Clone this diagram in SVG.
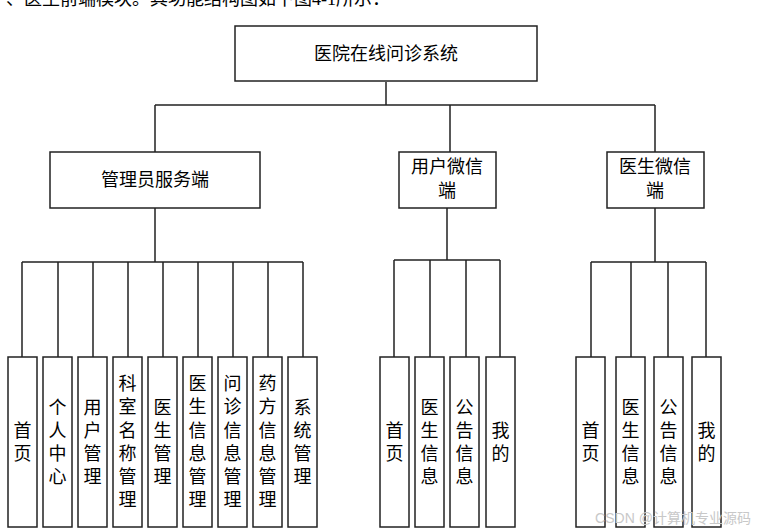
<svg xmlns="http://www.w3.org/2000/svg" width="759" height="531" viewBox="0 0 759 531">
<style>
.b{fill:#fff;stroke:#222;stroke-width:1.5}
.l{fill:none;stroke:#222;stroke-width:1.5}
text{font-family:"Liberation Sans","Noto Sans CJK SC",sans-serif;fill:#000;text-anchor:middle}
.t{font-size:18px}
.v{font-size:18px}
</style>
<rect width="759" height="531" fill="#fff"/>
<text x="6" y="5" style="font-size:18px;text-anchor:start;font-family:'Liberation Serif','Noto Sans CJK SC',serif">、医生前端模块。其功能结构图如下图4-1所示：</text>
<g id="connectors">
<path class="l" d="M386 82V105M155 105H655M155 105V152M450 105V152M655 105V152"/>
<path class="l" d="M155 208V262M22 262H303M22 262V357M58 262V357M93 262V357M128 262V357M163 262V357M198 262V357M233 262V357M268 262V357M303 262V357"/>
<path class="l" d="M447 208V260M394 260H500M394 260V357M430 260V357M466 260V357M500 260V357"/>
<path class="l" d="M655 208V262M591 262H706M591 262V357M631 262V357M668 262V357M706 262V357"/>
</g>
<g id="root"><rect class="b" x="235" y="26" width="302" height="55"/><text class="t" x="386" y="60">医院在线问诊系统</text></g>
<g id="admin"><rect class="b" x="50" y="152" width="210" height="56"/><text class="t" x="155" y="186">管理员服务端</text></g>
<g id="user"><rect class="b" x="399" y="152" width="97" height="56"/><text class="t" x="447" y="173">用户微信</text><text class="t" x="447" y="197">端</text></g>
<g id="doctor"><rect class="b" x="607" y="152" width="97" height="56"/><text class="t" x="655" y="173">医生微信</text><text class="t" x="655" y="197">端</text></g>
<g id="a1"><rect class="b" x="8" y="357" width="29" height="170"/><text class="v" x="22.5" y="437">首</text><text class="v" x="22.5" y="460">页</text></g>
<g id="a2"><rect class="b" x="43" y="357" width="29" height="170"/><text class="v" x="57.5" y="414">个</text><text class="v" x="57.5" y="437">人</text><text class="v" x="57.5" y="460">中</text><text class="v" x="57.5" y="483">心</text></g>
<g id="a3"><rect class="b" x="78" y="357" width="29" height="170"/><text class="v" x="92.5" y="414">用</text><text class="v" x="92.5" y="437">户</text><text class="v" x="92.5" y="460">管</text><text class="v" x="92.5" y="483">理</text></g>
<g id="a4"><rect class="b" x="113" y="357" width="29" height="170"/><text class="v" x="127.5" y="390">科</text><text class="v" x="127.5" y="413">室</text><text class="v" x="127.5" y="437">名</text><text class="v" x="127.5" y="460">称</text><text class="v" x="127.5" y="483">管</text><text class="v" x="127.5" y="506">理</text></g>
<g id="a5"><rect class="b" x="148" y="357" width="29" height="170"/><text class="v" x="162.5" y="414">医</text><text class="v" x="162.5" y="437">生</text><text class="v" x="162.5" y="460">管</text><text class="v" x="162.5" y="483">理</text></g>
<g id="a6"><rect class="b" x="183" y="357" width="29" height="170"/><text class="v" x="197.5" y="390">医</text><text class="v" x="197.5" y="413">生</text><text class="v" x="197.5" y="437">信</text><text class="v" x="197.5" y="460">息</text><text class="v" x="197.5" y="483">管</text><text class="v" x="197.5" y="506">理</text></g>
<g id="a7"><rect class="b" x="218" y="357" width="29" height="170"/><text class="v" x="232.5" y="390">问</text><text class="v" x="232.5" y="413">诊</text><text class="v" x="232.5" y="437">信</text><text class="v" x="232.5" y="460">息</text><text class="v" x="232.5" y="483">管</text><text class="v" x="232.5" y="506">理</text></g>
<g id="a8"><rect class="b" x="253" y="357" width="29" height="170"/><text class="v" x="267.5" y="390">药</text><text class="v" x="267.5" y="413">方</text><text class="v" x="267.5" y="437">信</text><text class="v" x="267.5" y="460">息</text><text class="v" x="267.5" y="483">管</text><text class="v" x="267.5" y="506">理</text></g>
<g id="a9"><rect class="b" x="288" y="357" width="29" height="170"/><text class="v" x="302.5" y="414">系</text><text class="v" x="302.5" y="437">统</text><text class="v" x="302.5" y="460">管</text><text class="v" x="302.5" y="483">理</text></g>
<g id="u1"><rect class="b" x="380" y="357" width="29" height="170"/><text class="v" x="394.5" y="437">首</text><text class="v" x="394.5" y="460">页</text></g>
<g id="u2"><rect class="b" x="415" y="357" width="29" height="170"/><text class="v" x="429.5" y="414">医</text><text class="v" x="429.5" y="437">生</text><text class="v" x="429.5" y="460">信</text><text class="v" x="429.5" y="483">息</text></g>
<g id="u3"><rect class="b" x="450" y="357" width="29" height="170"/><text class="v" x="464.5" y="414">公</text><text class="v" x="464.5" y="437">告</text><text class="v" x="464.5" y="460">信</text><text class="v" x="464.5" y="483">息</text></g>
<g id="u4"><rect class="b" x="486" y="357" width="29" height="170"/><text class="v" x="500.5" y="437">我</text><text class="v" x="500.5" y="460">的</text></g>
<g id="d1"><rect class="b" x="576" y="357" width="29" height="170"/><text class="v" x="590.5" y="437">首</text><text class="v" x="590.5" y="460">页</text></g>
<g id="d2"><rect class="b" x="616" y="357" width="29" height="170"/><text class="v" x="630.5" y="414">医</text><text class="v" x="630.5" y="437">生</text><text class="v" x="630.5" y="460">信</text><text class="v" x="630.5" y="483">息</text></g>
<g id="d3"><rect class="b" x="654" y="357" width="29" height="170"/><text class="v" x="668.5" y="414">公</text><text class="v" x="668.5" y="437">告</text><text class="v" x="668.5" y="460">信</text><text class="v" x="668.5" y="483">息</text></g>
<g id="d4"><rect class="b" x="692" y="357" width="29" height="170"/><text class="v" x="706.5" y="437">我</text><text class="v" x="706.5" y="460">的</text></g>
<text x="673" y="523" style="font-size:14px;fill:#c8c8c8">CSDN @计算机专业源码</text>
</svg>
